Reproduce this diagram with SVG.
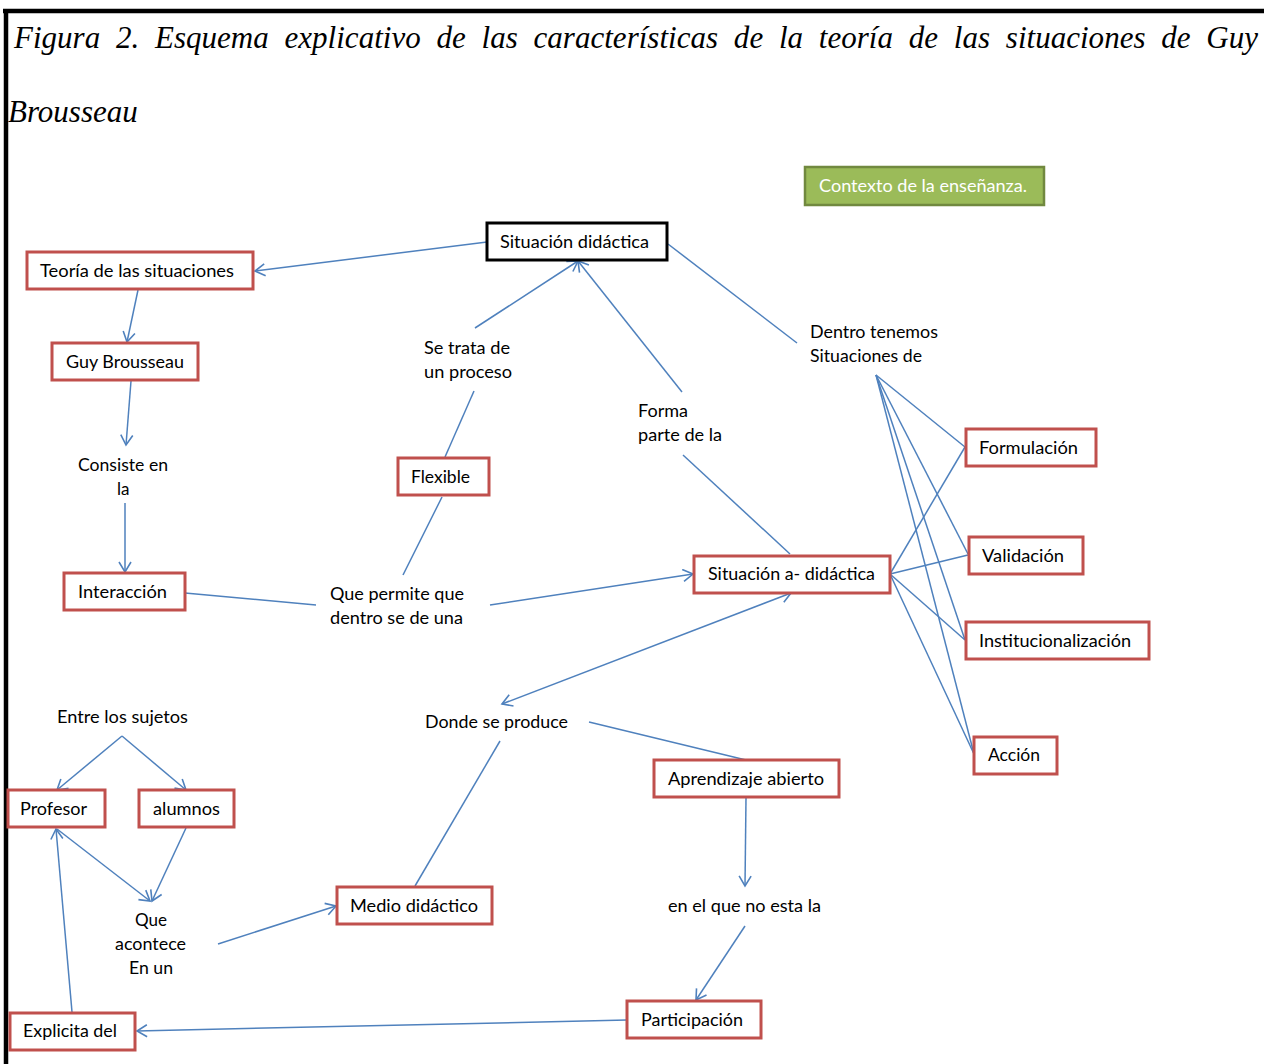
<svg xmlns="http://www.w3.org/2000/svg" width="1264" height="1064" viewBox="0 0 1264 1064">
<defs>
<marker id="arr" markerUnits="userSpaceOnUse" markerWidth="14" markerHeight="14" refX="12" refY="7" orient="auto-start-reverse" viewBox="0 0 14 14">
<path d="M2,1 L12,7 L2,13" fill="none" stroke="#4F81BD" stroke-width="1.6"/>
</marker>
<style>
.frame{stroke:#000;stroke-width:4.5;fill:none}
.title{font-family:"Liberation Serif","Times New Roman",serif;font-style:italic;font-size:31px;fill:#000}
.box{fill:#fff;stroke:#C0504D;stroke-width:3}
.boxk{fill:#fff;stroke:#000;stroke-width:3}
.t{font-family:Lato,"Liberation Sans",sans-serif;font-size:17px;fill:#000}
.c line,.c polyline{stroke:#4F81BD;stroke-width:1.5;fill:none}
</style>
</defs>
<rect width="1264" height="1064" fill="#fff"/>
<g id="frame">
<line class="frame" x1="3" y1="11" x2="1264" y2="11"/>
<line class="frame" x1="6" y1="9" x2="6" y2="1064"/>
</g>
<g id="title">
<text class="title" x="14" y="48" word-spacing="8" textLength="1244" lengthAdjust="spacing">Figura 2. Esquema explicativo de las características de la teoría de las situaciones de Guy</text>
<text class="title" x="8" y="122">Brousseau</text>
</g>
<g class="c" id="connectors">
<line x1="487" y1="242" x2="255" y2="271" marker-end="url(#arr)"/>
<line x1="138" y1="290" x2="127" y2="342" marker-end="url(#arr)"/>
<line x1="131" y1="381" x2="126" y2="445" marker-end="url(#arr)"/>
<line x1="125" y1="503" x2="125" y2="572" marker-end="url(#arr)"/>
<line x1="185" y1="593" x2="316" y2="605"/>
<line x1="490" y1="605" x2="693" y2="574" marker-end="url(#arr)"/>
<line x1="403" y1="575" x2="442" y2="497"/>
<line x1="445" y1="457" x2="474" y2="391"/>
<line x1="475" y1="328" x2="578" y2="261" marker-end="url(#arr)"/>
<line x1="682" y1="392" x2="578" y2="261" marker-end="url(#arr)"/>
<line x1="668" y1="244" x2="797" y2="343"/>
<line x1="683" y1="455" x2="790" y2="554"/>
<line x1="876" y1="375" x2="965" y2="447"/>
<line x1="876" y1="375" x2="968" y2="554"/>
<line x1="876" y1="375" x2="965" y2="640"/>
<line x1="876" y1="375" x2="974" y2="754"/>
<line x1="890" y1="574" x2="965" y2="447"/>
<line x1="890" y1="574" x2="968" y2="555"/>
<line x1="890" y1="574" x2="965" y2="640"/>
<line x1="890" y1="574" x2="974" y2="754"/>
<line x1="791" y1="593" x2="502" y2="704" marker-start="url(#arr)" marker-end="url(#arr)"/>
<line x1="500" y1="741" x2="415" y2="886"/>
<line x1="589" y1="722" x2="746" y2="760"/>
<line x1="746" y1="798" x2="745" y2="886" marker-end="url(#arr)"/>
<line x1="745" y1="926" x2="696" y2="1000" marker-end="url(#arr)"/>
<line x1="627" y1="1020" x2="137" y2="1031" marker-end="url(#arr)"/>
<line x1="72" y1="1012" x2="56" y2="829" marker-end="url(#arr)"/>
<line x1="122" y1="736" x2="57" y2="790" marker-end="url(#arr)"/>
<line x1="122" y1="736" x2="186" y2="790" marker-end="url(#arr)"/>
<line x1="57" y1="829" x2="150" y2="901" marker-end="url(#arr)"/>
<line x1="186" y1="828" x2="152" y2="901" marker-end="url(#arr)"/>
<line x1="218" y1="944" x2="336" y2="906" marker-end="url(#arr)"/>
</g>
<g id="contexto">
<rect x="805" y="167" width="239" height="38" fill="#9BBB59" stroke="#71893F" stroke-width="2.5"/>
<text class="t" x="819" y="192" style="fill:#fff" textLength="208" lengthAdjust="spacingAndGlyphs">Contexto de la enseñanza.</text>
</g>
<g id="sit-didactica"><rect class="boxk" x="487" y="223" width="180" height="37"/><text class="t" x="500" y="248" textLength="149" lengthAdjust="spacingAndGlyphs">Situación didáctica</text></g>
<g id="teoria"><rect class="box" x="27" y="252" width="226" height="37"/><text class="t" x="40" y="277" textLength="194" lengthAdjust="spacingAndGlyphs">Teoría de las situaciones</text></g>
<g id="guy"><rect class="box" x="52" y="343" width="146" height="37"/><text class="t" x="66" y="368" textLength="118" lengthAdjust="spacingAndGlyphs">Guy Brousseau</text></g>
<g id="consiste"><text class="t" x="78" y="471" textLength="90" lengthAdjust="spacingAndGlyphs">Consiste en</text><text class="t" x="117" y="495">la</text></g>
<g id="setrata"><text class="t" x="424" y="354" textLength="86" lengthAdjust="spacingAndGlyphs">Se trata de</text><text class="t" x="424" y="378" textLength="88" lengthAdjust="spacingAndGlyphs">un proceso</text></g>
<g id="flexible"><rect class="box" x="398" y="458" width="91" height="37"/><text class="t" x="411" y="483" textLength="59" lengthAdjust="spacingAndGlyphs">Flexible</text></g>
<g id="forma"><text class="t" x="638" y="417" textLength="50" lengthAdjust="spacingAndGlyphs">Forma</text><text class="t" x="638" y="441" textLength="84" lengthAdjust="spacingAndGlyphs">parte de la</text></g>
<g id="dentro"><text class="t" x="810" y="338" textLength="128" lengthAdjust="spacingAndGlyphs">Dentro tenemos</text><text class="t" x="810" y="362" textLength="112" lengthAdjust="spacingAndGlyphs">Situaciones de</text></g>
<g id="formulacion"><rect class="box" x="966" y="429" width="130" height="37"/><text class="t" x="979" y="454" textLength="99" lengthAdjust="spacingAndGlyphs">Formulación</text></g>
<g id="validacion"><rect class="box" x="969" y="537" width="114" height="37"/><text class="t" x="982" y="562" textLength="82" lengthAdjust="spacingAndGlyphs">Validación</text></g>
<g id="sit-adidactica"><rect class="box" x="694" y="556" width="196" height="37"/><text class="t" x="708" y="580" textLength="167" lengthAdjust="spacingAndGlyphs">Situación a- didáctica</text></g>
<g id="institucionalizacion"><rect class="box" x="966" y="622" width="183" height="37"/><text class="t" x="979" y="647" textLength="152" lengthAdjust="spacingAndGlyphs">Institucionalización</text></g>
<g id="accion"><rect class="box" x="974" y="737" width="83" height="37"/><text class="t" x="988" y="761" textLength="52" lengthAdjust="spacingAndGlyphs">Acción</text></g>
<g id="interaccion"><rect class="box" x="64" y="573" width="121" height="37"/><text class="t" x="78" y="598" textLength="89" lengthAdjust="spacingAndGlyphs">Interacción</text></g>
<g id="quepermite"><text class="t" x="330" y="600" textLength="134" lengthAdjust="spacingAndGlyphs">Que permite que</text><text class="t" x="330" y="624" textLength="133" lengthAdjust="spacingAndGlyphs">dentro se de una</text></g>
<g id="entre"><text class="t" x="57" y="723" textLength="131" lengthAdjust="spacingAndGlyphs">Entre los sujetos</text></g>
<g id="donde"><text class="t" x="425" y="728" textLength="143" lengthAdjust="spacingAndGlyphs">Donde se produce</text></g>
<g id="aprendizaje"><rect class="box" x="654" y="760" width="185" height="37"/><text class="t" x="668" y="785" textLength="156" lengthAdjust="spacingAndGlyphs">Aprendizaje abierto</text></g>
<g id="profesor"><rect class="box" x="8" y="790" width="97" height="37"/><text class="t" x="20" y="815" textLength="67" lengthAdjust="spacingAndGlyphs">Profesor</text></g>
<g id="alumnos"><rect class="box" x="139" y="790" width="95" height="37"/><text class="t" x="153" y="815" textLength="67" lengthAdjust="spacingAndGlyphs">alumnos</text></g>
<g id="que"><text class="t" x="135" y="926" textLength="32" lengthAdjust="spacingAndGlyphs">Que</text><text class="t" x="115" y="950" textLength="71" lengthAdjust="spacingAndGlyphs">acontece</text><text class="t" x="129" y="974" textLength="44" lengthAdjust="spacingAndGlyphs">En un</text></g>
<g id="medio"><rect class="box" x="337" y="887" width="155" height="37"/><text class="t" x="350" y="912" textLength="128" lengthAdjust="spacingAndGlyphs">Medio didáctico</text></g>
<g id="enelque"><text class="t" x="668" y="912" textLength="153" lengthAdjust="spacingAndGlyphs">en el que no esta la</text></g>
<g id="participacion"><rect class="box" x="627" y="1001" width="134" height="37"/><text class="t" x="641" y="1026" textLength="102" lengthAdjust="spacingAndGlyphs">Participación</text></g>
<g id="explicita"><rect class="box" x="10" y="1013" width="125" height="37"/><text class="t" x="23" y="1037" textLength="94" lengthAdjust="spacingAndGlyphs">Explicita del</text></g>
</svg>
